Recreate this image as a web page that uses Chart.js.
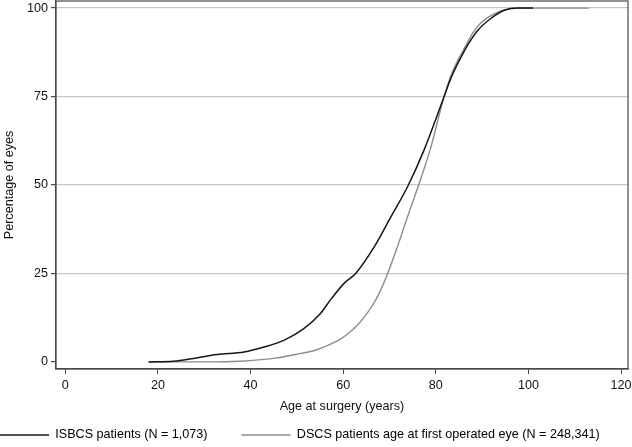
<!DOCTYPE html>
<html>
<head>
<meta charset="utf-8">
<script src="https://cdn.jsdelivr.net/npm/chart.js@4/dist/chart.umd.min.js"></script>
<style>
  html, body { margin: 0; padding: 0; background: #fff; }
  #wrap { width: 632px; height: 447px; }
</style>
</head>
<body>
<div id="wrap"><canvas id="cdfChart"></canvas></div>
<script>
// cumulative % of eyes by age at surgery
var isbcsAges = [18, 23.4, 27.7, 32.8, 38.6, 42.9, 47.2, 51.5, 55.1, 57.3, 60.2, 62.7, 66.7, 70.3, 73.9, 77.5, 81.8, 83.2, 85.4, 87.1, 89, 92, 94.8, 97.7, 101];
var isbcsPct  = [0, 0.2, 1.0, 2.1, 2.8, 4.2, 6.1, 9.4, 13.7, 17.6, 22.2, 25, 32.5, 41, 49.5, 60, 75, 80.0, 86.0, 90.0, 93.6, 97.2, 99.4, 100, 100];

var dscsAges = [18, 30, 37.8, 45, 50.8, 54, 57.3, 59.5, 61.6, 63.5, 65.2, 66.8, 68.1, 69.6, 71.7, 73.9, 76.3, 78.9, 81.8, 83.6, 86.1, 88, 89.7, 92.5, 95.5, 100, 113];
var dscsPct  = [0, 0, 0.2, 1.0, 2.4, 3.3, 5.0, 6.5, 8.6, 11, 13.8, 17, 20.3, 25, 32.5, 41, 50, 60.5, 75, 82, 88.5, 93, 95.8, 98.3, 99.7, 100, 100];

var xTicks = [0, 20, 40, 60, 80, 100, 120];
var yTicks = [0, 25, 50, 75, 100];

function toPoints(xs, ys) {
  return xs.map(function(x, i) { return { x: x, y: ys[i] }; });
}

var FONT = "'Liberation Sans', Arial, sans-serif";
Chart.defaults.font.family = FONT;
Chart.defaults.font.size = 12.6;
Chart.defaults.color = '#111';

// stata-style box round the plot region
var frame = {
  id: 'frame',
  afterDraw: function(chart) {
    var a = chart.chartArea, c = chart.ctx;
    c.save();
    c.strokeStyle = '#4a4a4a';
    c.lineWidth = 1.2;
    c.strokeRect(a.left, a.top, a.right - a.left, a.bottom - a.top);
    c.restore();
  }
};

// legend: both items on one row from the left edge, with wide gaps like the original
var legendNudge = {
  id: 'legendNudge',
  afterLayout: function(chart) {
    var lg = chart.legend;
    if (!lg || !lg.legendHitBoxes.length) return;
    var w1 = lg.legendHitBoxes[0].width;
    var startX = 0;
    lg.right = 640;
    lg.left = 2 * startX + w1 - lg.right;   // centre of row 0 lands on startX
    lg.top -= 19.3;                          // bottom kept so the clip box holds the text
  }
};

var ctx = document.getElementById('cdfChart').getContext('2d');
var chart = new Chart(ctx, {
  type: 'line',
  data: {
    datasets: [{
      label: 'ISBCS patients (N = 1,073)',
      data: toPoints(isbcsAges, isbcsPct),
      borderColor: '#161616',
      backgroundColor: '#161616',
      borderWidth: 1.5,
      pointRadius: 0,
      cubicInterpolationMode: 'monotone'
    }, {
      label: 'DSCS patients age at first operated eye (N = 248,341)',
      data: toPoints(dscsAges, dscsPct),
      borderColor: '#8c8c8c',
      backgroundColor: '#8c8c8c',
      borderWidth: 1.4,
      pointRadius: 0,
      cubicInterpolationMode: 'monotone'
    }]
  },
  options: {
    responsive: true,
    maintainAspectRatio: false,
    animation: false,
    layout: { padding: { top: 1, right: 4, left: 0, bottom: 0 } },
    plugins: {
      tooltip: { enabled: false },
      legend: {
        position: 'bottom',
        maxHeight: 33,
        labels: {
          boxWidth: 49,
          boxHeight: 1.5,
          padding: 34,
          color: '#111',
          generateLabels: function(ch) {
            return ch.data.datasets.map(function(ds, i) {
              return { text: ds.label, fillStyle: ds.borderColor, strokeStyle: ds.borderColor, lineWidth: 0, datasetIndex: i, hidden: false };
            });
          }
        }
      }
    },
    scales: {
      x: {
        type: 'linear',
        min: -2,
        max: 121.5,
        afterBuildTicks: function(s) { s.ticks = xTicks.map(function(v) { return { value: v }; }); },
        ticks: { padding: 4, color: '#111', maxRotation: 0 },
        grid: { drawOnChartArea: false, tickLength: 5, tickColor: '#4a4a4a' },
        border: { color: '#4a4a4a', width: 1.2 },
        title: { display: true, text: 'Age at surgery (years)', color: '#111', padding: { top: 4, bottom: 0 } },
        afterFit: function(s) { s.height = 45; s.paddingLeft = 0; s.paddingRight = 0; }
      },
      y: {
        min: -2,
        max: 102,
        afterBuildTicks: function(s) { s.ticks = yTicks.map(function(v) { return { value: v }; }); },
        ticks: { padding: 3, color: '#111' },
        grid: {
          tickLength: 5,
          tickColor: '#4a4a4a',
          color: function(c) { return c.tick && c.tick.value === 0 ? 'rgba(0,0,0,0)' : '#c6c6c6'; },
          lineWidth: 1.2
        },
        border: { color: '#4a4a4a', width: 1.2 },
        title: { display: true, text: 'Percentage of eyes', color: '#111', padding: { top: 2, bottom: 0 } },
        afterFit: function(s) { s.width = 56; s.paddingTop = 0; s.paddingBottom = 0; }
      }
    }
  },
  plugins: [frame, legendNudge]
});
</script>
</body>
</html>
